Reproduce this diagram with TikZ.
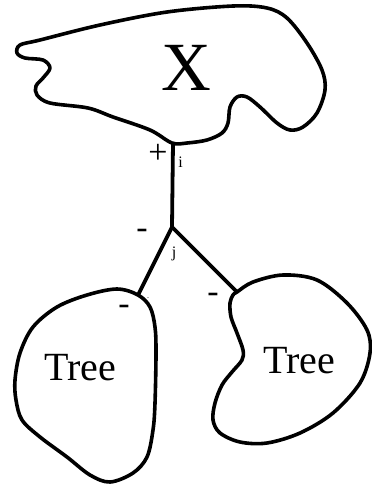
\documentclass[tikz,border=0pt]{standalone}
\usepackage{fontspec}
\setmainfont{Liberation Serif}
\begin{document}
\begin{tikzpicture}[x=1pt,y=-1pt,
  outline/.style={line width=3.6pt,line join=round},
  edge/.style={line width=3.8pt},
  lbl/.style={inner sep=0pt,anchor=base},
  sign/.style={lbl,font=\fontsize{34}{34}\selectfont},
  idx/.style={lbl,font=\fontsize{16}{16}\selectfont},
  big/.style={lbl,font=\fontsize{69}{69}\selectfont},
  treelbl/.style={lbl,font=\fontsize{40}{40}\selectfont}]
\useasboundingbox (0,0) rectangle (372,485);
% top blob X
\draw[outline] plot[smooth cycle,tension=0.55] coordinates {
 (172,143) (187,143) (207,140) (222,133) (228,123) (230,107) (237,97) (247,97)
 (260,107) (277,123) (290,130) (303,127) (317,113) (325,90) (322,70) (307,43)
 (287,18) (267,8) (233,6) (167,12) (100,25) (40,40) (20,45) (17,53) (25,58)
 (43,60) (50,68) (43,78) (36,86) (37,95) (50,103) (88,108) (113,117) (150,130)};
% left tree blob
\draw[outline] plot[smooth cycle,tension=0.55] coordinates {
 (138,295) (150,307) (155,327) (156,353) (155,403) (153,430) (147,457) (133,473)
 (110,482) (90,475) (67,457) (40,437) (22,420) (16,400) (15,380) (20,353)
 (33,327) (57,307) (87,295) (117,289)};
% right tree blob
\draw[outline] plot[smooth cycle,tension=0.55] coordinates {
 (237,292) (253,282) (283,275) (317,280) (347,303) (367,330) (370,353) (360,383)
 (333,413) (300,433) (267,443) (240,442) (220,433) (213,420) (215,403) (222,385)
 (232,372) (242,360) (243,350) (237,333) (231,317) (230,303) (233,295)};
% connection points
\coordinate (pi) at (173,143);
\coordinate (pj) at (172,227);
\coordinate (pl) at (138,295);
\coordinate (pr) at (237,292);
\draw[edge,line join=miter] (pi) -- (pj) -- (pl);
\draw[edge] (pj) -- (pr);
% labels
\node[big] (X) at (186,90) {X};
\node[treelbl] (tl) at (80,380) {Tree};
\node[treelbl] (tr) at (299,373) {Tree};
\node[sign] (plus) at (158,163.5) {+};
\node[idx] (li) at (180.5,167) {i};
\node[sign] (mj) at (142,238) {-};
\node[idx] (lj) at (174,257) {j};
\node[sign] (ml) at (124,314) {-};
\node[sign] (mr) at (213,302) {-};
\node[lbl,font=\fontsize{8}{8}\selectfont] (dot) at (148,298) {.};
\end{tikzpicture}
\end{document}
